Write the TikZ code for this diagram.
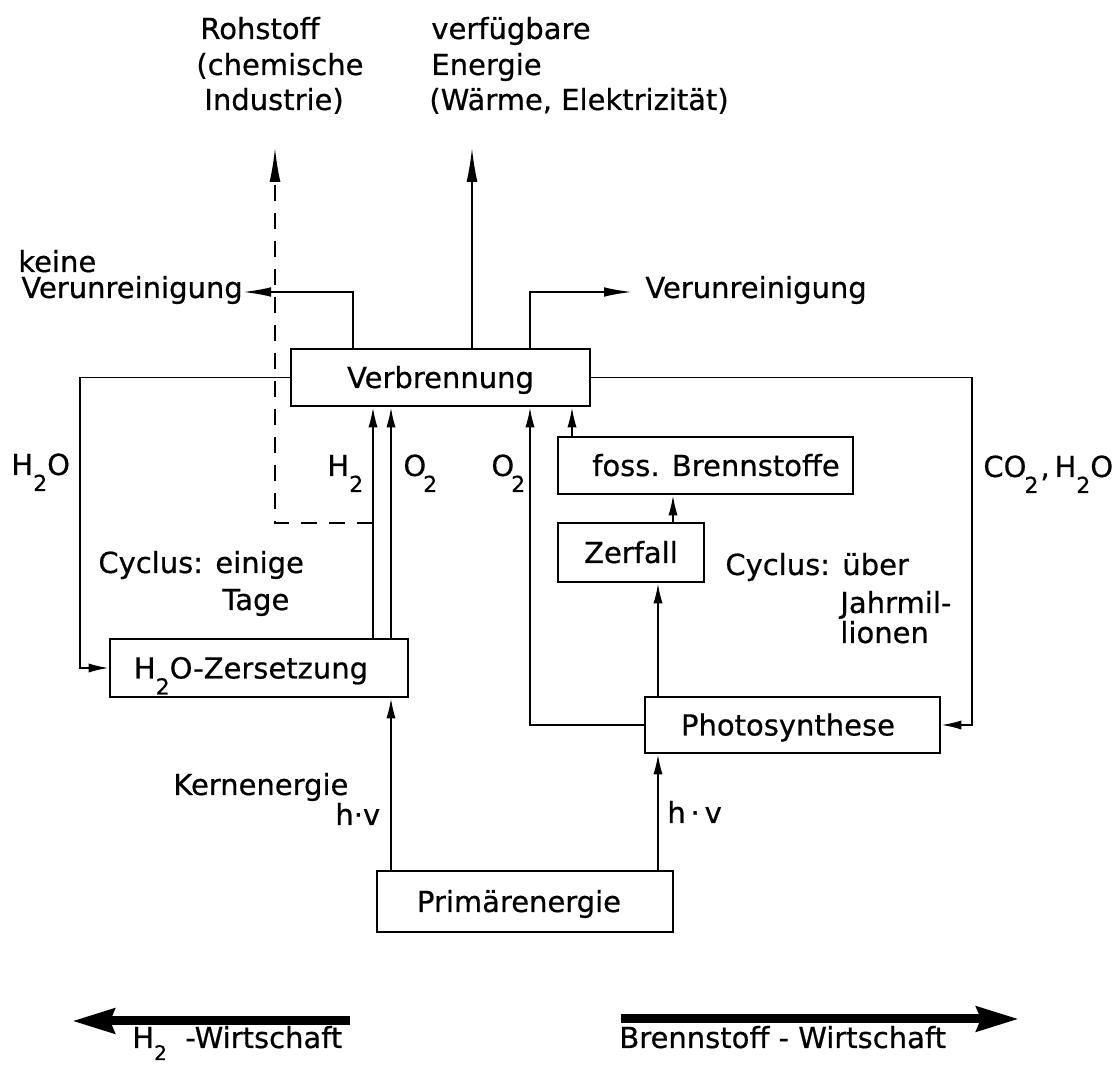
\documentclass[tikz,border=0pt]{standalone}
\usepackage{fontspec}
\setmainfont{DejaVu Sans}[FakeBold=0.6]
\usetikzlibrary{arrows.meta}
\newcommand\fs{\fontsize{14.5}{17}\selectfont}
\newcommand\subtwo{\smash{\raisebox{-8pt}{\fontsize{11}{11}\selectfont 2}}}
\newcommand\subtwolow{\smash{\raisebox{-6pt}{\fontsize{10}{10}\selectfont 2}}}
\begin{document}
\begin{tikzpicture}[x=0.5pt,y=-0.5pt,
  every node/.style={font=\fs},
  box/.style={draw, line width=1.4pt, inner sep=0pt, text height=10.5pt, text depth=0pt},
  conn/.style={line width=0.9pt},
  tip/.style={conn,-{Latex[length=10pt,width=4.6pt]}},
  bigtip/.style={conn,-{Latex[length=17pt,width=5.5pt]}},
  midtip/.style={conn,-{Latex[length=14pt,width=4.8pt]}},
  lbl/.style={anchor=base west, inner sep=0pt},
  fat/.style={line width=4.5pt,-{Stealth[length=21pt,width=12pt,inset=2pt]}}]
\useasboundingbox (0,0) rectangle (1116,1068);

% boxes
\node[box, minimum width=149.5pt, minimum height=28.5pt] (verb) at (440.5,377.5) {Verbrennung};
\node[box, minimum width=149pt, minimum height=29pt] (zers) at (259,668) {H\subtwo O-Zersetzung\hspace*{8pt}};
\node[box, minimum width=147.5pt, minimum height=28.5pt] (foss) at (705.5,465.5) {\hspace*{10.5pt}foss. Brennstoffe};
\node[box, minimum width=73pt, minimum height=29.5pt] (zerf) at (631,552.5) {Zerfall};
\node[box, minimum width=147.5pt, minimum height=28pt] (photo) at (792.5,725) {Photosynthese\hspace*{4.5pt}};
\node[box, minimum width=148pt, minimum height=30.5pt] (prim) at (525,901.5) {Primärenergie\hspace*{6pt}};

% labels
\node[lbl] (roh1) at (200,39) {Rohstoff};
\node[lbl] (roh2) at (196,75) {(chemische};
\node[lbl] (roh3) at (204,110) {Industrie)};
\node[lbl] (ve1) at (431,39) {verfügbare};
\node[lbl] (ve2) at (431,75) {Energie};
\node[lbl] (ve3) at (429,110) {(Wärme, Elektrizität)};
\node[lbl] (kv1) at (18,272) {keine};
\node[lbl] (kv2) at (21,298) {Verunreinigung};
\node[lbl] (vr) at (645,298) {Verunreinigung};
\node[lbl] (lh2o) at (11,475) {H\subtwo O};
\node[lbl] (lh2) at (327,476) {H\subtwo};
\node[lbl] (lo2a) at (403,476) {O\kern-1.5pt\subtwo};
\node[lbl] (lo2b) at (491,476) {O\kern-1.5pt\subtwo};
\node[lbl] (lco) at (983,477) {CO\kern-1pt\subtwo\kern1pt,\,H\subtwo O};
\node[lbl] (cy1) at (98,573) {Cyclus: einige};
\node[lbl] (cy2) at (222,610) {Tage};
\node[lbl] (cj1) at (725,575) {Cyclus: über};
\node[lbl] (cj2) at (840,613) {Jahrmil-};
\node[lbl] (cj3) at (840,643) {lionen};
\node[lbl] (ke) at (173,795) {Kernenergie};
\node[lbl] (hv1) at (335,825) {h·v};
\node[lbl] (hv2) at (667,823) {h\,·\,v};
\node[lbl] (h2w) at (132,1048) {H\subtwolow\ \ -Wirtschaft};
\node[lbl] (bw) at (619,1048) {Brennstoff - Wirtschaft};

% helper coordinates
\coordinate (xL) at (80,0);
\coordinate (xR) at (972,0);
\coordinate (xH) at (373,0);
\coordinate (xO) at (391,0);
\coordinate (xO2) at (530,0);
\coordinate (xF) at (572,0);
\coordinate (xZ) at (673,0);
\coordinate (xP) at (658,0);
\coordinate (xK) at (353,0);
\coordinate (xE) at (472,0);
\coordinate (kvTip) at (243,292);
\coordinate (vrTip) at (632,292);
\coordinate (eTip) at (472,148);
\coordinate (dTip) at (275,148);
\coordinate (dStart) at (373,523);
\coordinate (la1) at (350,1021);
\coordinate (la2) at (72,1021);
\coordinate (ra1) at (621,1019);
\coordinate (ra2) at (1019,1019);

% connectors
\draw[tip] (verb.west) -| (xL |- zers.west) -- (zers.west);
\draw[tip] (verb.east) -| (xR |- photo.east) -- (photo.east);
\draw[tip] (zers.north -| xH) -- (verb.south -| xH);
\draw[tip] (zers.north -| xO) -- (verb.south -| xO);
\draw[tip] (prim.north -| xO) -- (zers.south -| xO);
\draw[tip] (photo.west) -| (verb.south -| xO2);
\draw[tip] (foss.north -| xF) -- (verb.south -| xF);
\draw[tip] (zerf.north -| xZ) -- (foss.south -| xZ);
\draw[tip] (photo.north -| xP) -- (zerf.south -| xP);
\draw[tip] (prim.north -| xP) -- (photo.south -| xP);
\draw[midtip] (verb.north -| xK) |- (kvTip);
\draw[midtip] (verb.north -| xO2) |- (vrTip);
\draw[bigtip] (verb.north -| xE) -- (eTip);
\draw[bigtip, dash pattern=on 8pt off 6pt] (dStart) -| (dTip);
\draw[fat] (la1) -- (la2);
\draw[fat] (ra1) -- (ra2);
\end{tikzpicture}
\end{document}
